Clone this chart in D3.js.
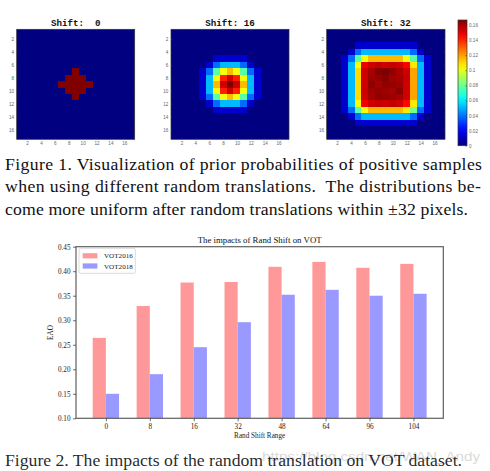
<!DOCTYPE html>
<html><head><meta charset="utf-8">
<script src="https://cdn.jsdelivr.net/npm/d3@7"></script>
<style>html,body{margin:0;padding:0;background:#fff;}svg{display:block;}</style>
</head><body>
<script>
// ---------- data ----------
const shiftTitles = ["Shift:  0", "Shift: 16", "Shift: 32"];
const gridTicks = [2, 4, 6, 8, 10, 12, 14, 16];
const Z = [0,0,0,0,0,0,0,0,0,0,0,0,0,0,0,0,0];
const prior0 = [
  Z, Z, Z, Z, Z, Z,
  [0,0,0,0,0,0,0,0,1,0,0,0,0,0,0,0,0],
  [0,0,0,0,0,0,0,1,1,1,0,0,0,0,0,0,0],
  [0,0,0,0,0,0,1,1,1,1,1,0,0,0,0,0,0],
  [0,0,0,0,0,0,0,1,1,1,0,0,0,0,0,0,0],
  [0,0,0,0,0,0,0,0,1,0,0,0,0,0,0,0,0],
  Z, Z, Z, Z, Z, Z
];
const prior16 = [
  Z, Z, Z, Z,
  [0,0,0,0,0,0,1,1,1,1,1,0,0,0,0,0,0],
  [0,0,0,0,0,1,3,4,4,4,3,1,0,0,0,0,0],
  [0,0,0,0,1,3,6,8,9,8,6,3,1,0,0,0,0],
  [0,0,0,0,1,4,8,11,12,11,8,4,1,0,0,0,0],
  [0,0,0,0,1,4,9,12,13,12,9,4,1,0,0,0,0],
  [0,0,0,0,1,4,8,11,12,11,8,4,1,0,0,0,0],
  [0,0,0,0,1,3,6,8,9,8,6,3,1,0,0,0,0],
  [0,0,0,0,0,1,3,4,4,4,3,1,0,0,0,0,0],
  [0,0,0,0,0,0,1,1,1,1,1,0,0,0,0,0,0],
  Z, Z, Z, Z
];
const prior32 = [
  Z, Z,
  [0,0,0,0,1,1,1,1,1,1,1,1,1,0,0,0,0],
  [0,0,0,1,3,4,4,4,4,4,4,4,3,1,0,0,0],
  [0,0,1,3,6,8,9,9,9,9,9,8,6,3,1,0,0],
  [0,0,1,4,8,11.6,12,12.2,12,12.1,12,11.4,8.4,4,1,0,0],
  [0,0,1,4,8.6,12,12.5,12.9,13,12.8,12.4,12,9.3,4,1,0,0],
  [0,0,1,4,8.6,12,12.6,12.7,12.9,12.6,12.5,12.1,9.3,4,1,0,0],
  [0,0,1,4,8.6,12,12.8,12.5,12.8,12.7,12.6,12,9.3,4,1,0,0],
  [0,0,1,4,8.6,12.1,12.6,12.7,12.6,12.5,12.9,12,9.3,4,1,0,0],
  [0,0,1,4,8.6,12,12.5,12.8,12.7,12.6,12.5,12,9.3,4,1,0,0],
  [0,0,1,4,8,11.5,12,12.1,12,12.2,12,11.3,8.4,4,1,0,0],
  [0,0,1,3,6,8,9,9,9,9,9,8.4,6.4,3,1,0,0],
  [0,0,0,1,3,4,4,4,4,4,4,4,3,1,0,0,0],
  [0,0,0,0,1,1,1,1,1,1,1,1,1,0,0,0,0],
  Z, Z
];
const priors = [prior0, prior16, prior32];
const colorbarTicks = [0, 0.02, 0.04, 0.06, 0.08, 0.1, 0.12, 0.14, 0.16];
const caption1 = [
  "Figure 1. Visualization of prior probabilities of positive samples",
  "when using different random translations.  The distributions be-",
  "come more uniform after random translations within \u00b132 pixels."
];
const categories = ["0", "8", "16", "32", "48", "64", "96", "104"];
const seriesNames = ["VOT2016", "VOT2018"];
const vot2016 = [0.264, 0.329, 0.377, 0.378, 0.409, 0.419, 0.407, 0.415];
const vot2018 = [0.150, 0.190, 0.245, 0.296, 0.352, 0.362, 0.350, 0.354];
const eaoTicks = [0.10, 0.15, 0.20, 0.25, 0.30, 0.35, 0.40, 0.45];
const chartTitle = "The impacts of Rand Shift on VOT";
const caption2 = "Figure 2. The impacts of the random translation on VOT dataset.";
const watermark = "https://blog.csdn.net/WAN_Andy";

// ---------- drawing ----------
const W = 490, H = 471;
const svg = d3.select("body").append("svg").attr("width", W).attr("height", H);

function jet(t) {
  const c = v => Math.max(0, Math.min(1, v));
  return d3.rgb(255 * c(1.5 - Math.abs(4 * t - 3)),
                255 * c(1.5 - Math.abs(4 * t - 2)),
                255 * c(1.5 - Math.abs(4 * t - 1))).toString();
}

const panels = [{x0: 16.7, x1: 134.7}, {x0: 171, x1: 289}, {x0: 326.7, x1: 445}];
const hmTop = 29.3, hmBot = 139.3;
const tickFont = "'Liberation Sans', Arial, sans-serif";

panels.forEach((p, k) => {
  const data = priors[k];
  const mx = d3.max(data.flat());
  const xs = d3.scaleLinear().domain([0.5, 17.5]).range([p.x0, p.x1]);
  const ys = d3.scaleLinear().domain([0.5, 17.5]).range([hmTop, hmBot]);
  const g = svg.append("g");
  g.append("rect").attr("x", p.x0).attr("y", hmTop)
    .attr("width", p.x1 - p.x0).attr("height", hmBot - hmTop).attr("fill", jet(0));
  const cells = g.append("g").attr("shape-rendering", "crispEdges");
  data.forEach((row, i) => row.forEach((v, j) => {
    if (v <= 0) return;
    const x0 = Math.round(xs(j + 0.5)), x1 = Math.round(xs(j + 1.5));
    const y0 = Math.round(ys(i + 0.5)), y1 = Math.round(ys(i + 1.5));
    cells.append("rect")
      .attr("x", x0).attr("y", y0)
      .attr("width", x1 - x0).attr("height", y1 - y0)
      .attr("fill", jet(v / mx));
  }));
  g.append("rect").attr("x", p.x0).attr("y", hmTop)
    .attr("width", p.x1 - p.x0).attr("height", hmBot - hmTop)
    .attr("fill", "none").attr("stroke", "#333").attr("stroke-width", 0.7);
  const axes = [
    [d3.axisLeft(ys), `translate(${p.x0},0)`, true],
    [d3.axisBottom(xs), `translate(0,${hmBot})`, true],
    [d3.axisRight(ys), `translate(${p.x1},0)`, false],
    [d3.axisTop(xs), `translate(0,${hmTop})`, false]
  ];
  axes.forEach(([ax, tr, lab]) => {
    const a = g.append("g").attr("transform", tr)
      .call(ax.tickValues(gridTicks).tickSize(-1.6).tickPadding(2.6)
        .tickFormat(lab ? d3.format("d") : ""));
    a.select(".domain").remove();
    a.selectAll("line").attr("stroke", "#333").attr("stroke-width", 0.5);
    a.selectAll("text").attr("font-family", tickFont).attr("font-size", 4.6).attr("fill", "#666");
  });
  svg.append("text").attr("x", (p.x0 + p.x1) / 2).attr("y", 26)
    .attr("text-anchor", "middle").attr("font-family", "'Liberation Mono', 'Courier New', monospace")
    .attr("font-weight", "bold").attr("font-size", 9.2).attr("fill", "#111")
    .style("white-space", "pre").text(shiftTitles[k]);
});

// colorbar
const cb = {x0: 458, x1: 467, top: 20, bot: 145.7};
const cbScale = d3.scaleLinear().domain([0, 0.1666]).range([cb.bot, cb.top]);
const defs = svg.append("defs");
const grad = defs.append("linearGradient").attr("id", "jetgrad")
  .attr("x1", 0).attr("y1", 1).attr("x2", 0).attr("y2", 0);
d3.range(0, 1.0001, 0.05).forEach(t => grad.append("stop").attr("offset", t).attr("stop-color", jet(t)));
svg.append("rect").attr("x", cb.x0).attr("y", cb.top).attr("width", cb.x1 - cb.x0)
  .attr("height", cb.bot - cb.top).attr("fill", "url(#jetgrad)")
  .attr("stroke", "#333").attr("stroke-width", 0.7);
const cbAx = svg.append("g").attr("transform", `translate(${cb.x1},0)`)
  .call(d3.axisRight(cbScale).tickValues(colorbarTicks).tickSize(-1.6).tickPadding(2).tickFormat(d3.format("~g")));
cbAx.select(".domain").remove();
cbAx.selectAll("line").attr("stroke", "#333").attr("stroke-width", 0.5);
cbAx.selectAll("text").attr("font-family", tickFont).attr("font-size", 4.6).attr("fill", "#666");

// caption 1
const serif = "'Liberation Serif', 'Times New Roman', serif";
const capLens = [477, 476, 463];
const capBase = [169.5, 192, 214.5];
caption1.forEach((line, i) => {
  svg.append("text").attr("x", 5).attr("y", capBase[i])
    .attr("font-family", serif).attr("font-size", 17.7).attr("fill", "#111")
    .attr("textLength", capLens[i]).attr("lengthAdjust", "spacing")
    .style("white-space", "pre").text(line);
});

// bar chart
const ax = {l: 76, r: 443.3, t: 246.7, b: 418.3};
const x = d3.scaleLinear().domain([-0.68, 7.68]).range([ax.l, ax.r]);
const y = d3.scaleLinear().domain([0.10, 0.45]).range([ax.b, ax.t]);
const bw = 0.3;
const colors = ["#ff9999", "#9999ff"];
const bars = svg.append("g");
[vot2016, vot2018].forEach((vals, s) => {
  bars.selectAll(null).data(vals).enter().append("rect")
    .attr("x", (d, i) => x(i - bw + s * bw))
    .attr("width", x(bw) - x(0))
    .attr("y", d => y(d))
    .attr("height", d => y(0.10) - y(d))
    .attr("fill", colors[s]);
});
svg.append("rect").attr("x", ax.l).attr("y", ax.t).attr("width", ax.r - ax.l).attr("height", ax.b - ax.t)
  .attr("fill", "none").attr("stroke", "#606060").attr("stroke-width", 1.2);
const yAx = svg.append("g").attr("transform", `translate(${ax.l},0)`)
  .call(d3.axisLeft(y).tickValues(eaoTicks).tickSize(3).tickPadding(2.5).tickFormat(d3.format(".2f")));
const xAx = svg.append("g").attr("transform", `translate(0,${ax.b})`)
  .call(d3.axisBottom(x).tickValues(d3.range(categories.length)).tickSize(3).tickPadding(2.3)
    .tickFormat(i => categories[i]));
[yAx, xAx].forEach(a => {
  a.select(".domain").remove();
  a.selectAll("line").attr("stroke", "#333").attr("stroke-width", 0.7);
  a.selectAll("text").attr("font-family", serif).attr("font-size", 7.2).attr("fill", "#222");
});
svg.append("text").attr("x", (ax.l + ax.r) / 2).attr("y", 242.5).attr("text-anchor", "middle")
  .attr("font-family", serif).attr("font-size", 8.8).attr("fill", "#111").text(chartTitle);
svg.append("text").attr("transform", `translate(52.5,${(ax.t + ax.b) / 2}) rotate(-90)`)
  .attr("text-anchor", "middle").attr("font-family", serif).attr("font-size", 7.2).attr("fill", "#222").text("EAO");
svg.append("text").attr("x", (ax.l + ax.r) / 2).attr("y", 438).attr("text-anchor", "middle")
  .attr("font-family", serif).attr("font-size", 7.2).attr("fill", "#222").text("Rand Shift Range");

// legend
const lg = svg.append("g");
lg.append("rect").attr("x", 79).attr("y", 248.3).attr("width", 56.3).attr("height", 25)
  .attr("rx", 1.5).attr("fill", "#fff").attr("fill-opacity", 0.8).attr("stroke", "#ccc").attr("stroke-width", 0.7);
seriesNames.forEach((n, i) => {
  lg.append("rect").attr("x", 82.7).attr("y", 253.2 + i * 10.2).attr("width", 14.7).attr("height", 5.2)
    .attr("fill", colors[i]);
  lg.append("text").attr("x", 104).attr("y", 258.4 + i * 10.2)
    .attr("font-family", serif).attr("font-size", 7.1).attr("fill", "#222").text(n);
});

// caption 2 with watermark
svg.append("text").attr("x", 262).attr("y", 461).attr("font-family", "'Liberation Sans', Arial, sans-serif")
  .attr("font-size", 13).attr("fill", "#dadada").attr("textLength", 218).attr("lengthAdjust", "spacingAndGlyphs")
  .text(watermark);
svg.append("text").attr("x", 5).attr("y", 465.5)
  .attr("font-family", serif).attr("font-size", 17.7).attr("fill", "#111").attr("fill-opacity", 0.92)
  .attr("textLength", 457).attr("lengthAdjust", "spacing").text(caption2);
</script>
</body></html>
